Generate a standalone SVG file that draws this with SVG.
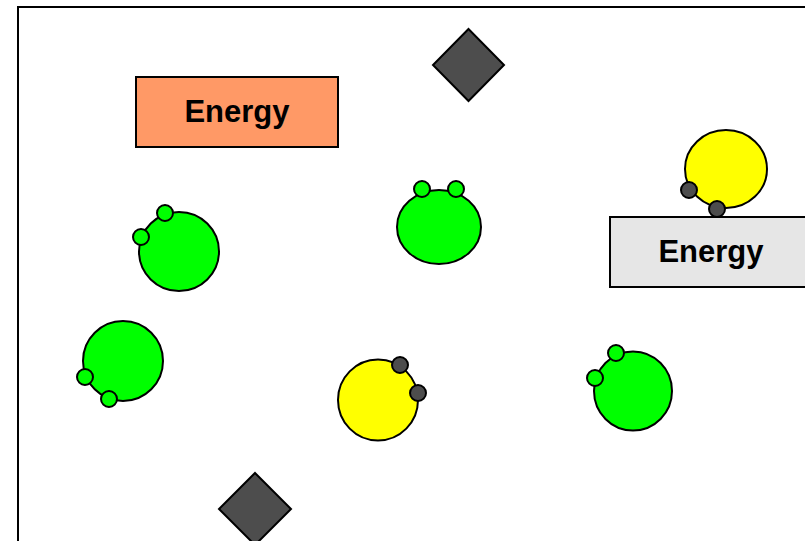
<svg xmlns="http://www.w3.org/2000/svg" width="805" height="541" viewBox="0 0 805 541">
  <style>
    .frame { fill: #ffffff; stroke: #000000; stroke-width: 2; }
    .box { stroke: #000000; stroke-width: 2; }
    .label { font-family: "Liberation Sans", Arial, sans-serif; font-weight: bold; font-size: 31px; fill: #000000; text-anchor: middle; }
    .green { fill: #00ff00; stroke: #000000; stroke-width: 2; }
    .yellow { fill: #ffff00; stroke: #000000; stroke-width: 2; }
    .dark { fill: #4d4d4d; stroke: #000000; stroke-width: 2; }
  </style>
  <rect width="805" height="541" fill="#ffffff"/>
  <!-- outer frame, open to the right and bottom -->
  <rect class="frame" x="18" y="7" width="800" height="550"/>

  <g id="energy-orange">
    <rect class="box" x="136" y="77" width="202" height="70" fill="#ff9966"/>
    <text class="label" x="237" y="122">Energy</text>
  </g>

  <g id="diamond-top">
    <polygon class="dark" points="468.5,29 504,65 468.5,101 433,65"/>
  </g>

  <g id="green-top">
    <ellipse class="green" cx="439" cy="227" rx="42" ry="37"/>
    <circle class="green" cx="422" cy="189" r="8"/>
    <circle class="green" cx="456" cy="189" r="8"/>
  </g>

  <g id="green-left-upper">
    <ellipse class="green" cx="179" cy="251.5" rx="40" ry="39.5"/>
    <circle class="green" cx="165" cy="213" r="8"/>
    <circle class="green" cx="141" cy="237" r="8"/>
  </g>

  <g id="green-left-lower">
    <ellipse class="green" cx="123" cy="361" rx="40" ry="40"/>
    <circle class="green" cx="85" cy="377" r="8"/>
    <circle class="green" cx="109" cy="399" r="8"/>
  </g>

  <g id="yellow-middle">
    <ellipse class="yellow" cx="378" cy="400" rx="40" ry="40.5"/>
    <circle class="dark" cx="400" cy="365" r="8"/>
    <circle class="dark" cx="418" cy="393" r="8"/>
  </g>

  <g id="green-right">
    <ellipse class="green" cx="633" cy="391" rx="39" ry="39.5"/>
    <circle class="green" cx="616" cy="353" r="8"/>
    <circle class="green" cx="595" cy="378" r="8"/>
  </g>

  <g id="yellow-top-right">
    <ellipse class="yellow" cx="726" cy="169" rx="41" ry="39"/>
    <circle class="dark" cx="689" cy="190" r="8"/>
    <circle class="dark" cx="717" cy="209" r="8"/>
  </g>

  <g id="energy-grey">
    <rect class="box" x="610" y="217" width="202" height="70" fill="#e6e6e6"/>
    <text class="label" x="711" y="262">Energy</text>
  </g>

  <g id="diamond-bottom">
    <polygon class="dark" points="255,473 291,509 255,545 219,509"/>
  </g>
</svg>
